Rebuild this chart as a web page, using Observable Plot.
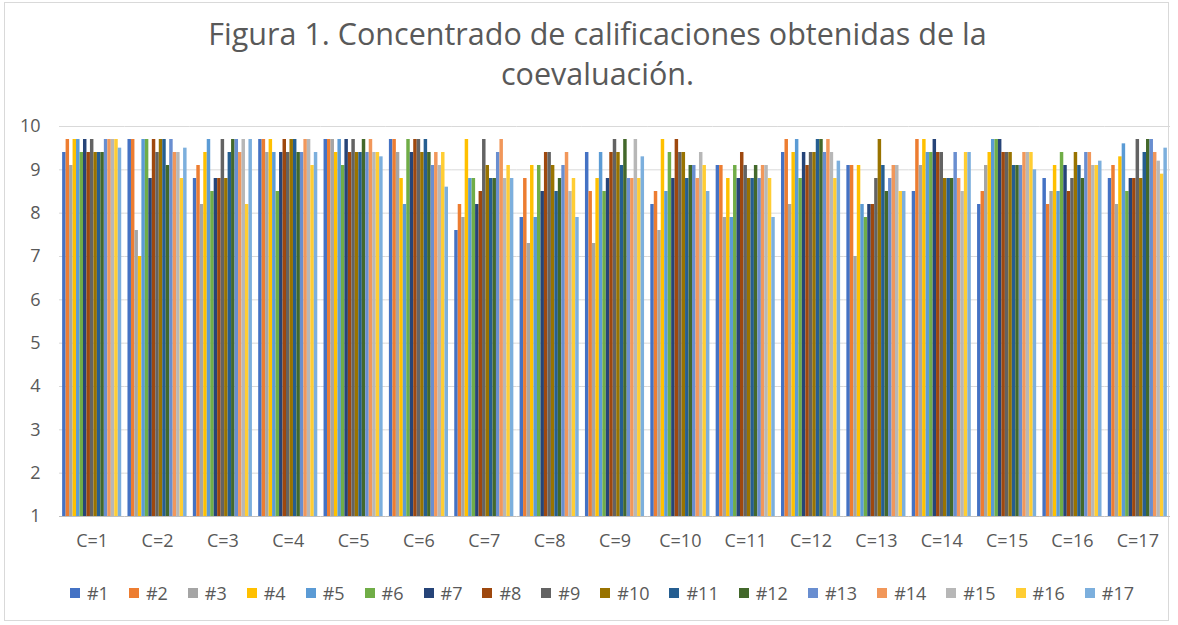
<!DOCTYPE html>
<html><head><meta charset="utf-8">
<script src="https://cdn.jsdelivr.net/npm/d3@7"></script>
<script src="https://cdn.jsdelivr.net/npm/@observablehq/plot@0.6"></script>
<style>
body{margin:0;background:#fff;font-family:"Open Sans",sans-serif;}
#wrap{position:relative;width:1178px;height:625px;overflow:hidden;}
#frame{position:absolute;left:4px;top:2px;width:1165px;height:619px;border:1px solid #d9d9d9;box-sizing:border-box;pointer-events:none;}
#title{position:absolute;top:13px;left:0;width:1195px;text-align:center;font-size:30.5px;line-height:40px;color:#595959;}
#chart{position:absolute;top:100px;left:0;}
#legend{position:absolute;top:582px;left:0;width:1204px;display:flex;justify-content:center;gap:20px;font-size:18px;line-height:22px;color:#595959;}
.item{display:flex;align-items:center;}
.sw{width:10px;height:10px;margin-right:7px;}
</style>
</head><body>
<div id="wrap">
<div id="frame"></div>
<div id="title">Figura 1. Concentrado de calificaciones obtenidas de la<br>coevaluación.</div>
<div id="chart"></div>
<div id="legend"></div>
</div>
<script>
const categories = ["C=1","C=2","C=3","C=4","C=5","C=6","C=7","C=8","C=9","C=10","C=11","C=12","C=13","C=14","C=15","C=16","C=17"];
const series = ["#1","#2","#3","#4","#5","#6","#7","#8","#9","#10","#11","#12","#13","#14","#15","#16","#17"];
const colors = ["#4472C4","#ED7D31","#A5A5A5","#FFC000","#5B9BD5","#70AD47","#264478","#9E480E","#636363","#997300","#255E91","#43682B","#698ED0","#F1975A","#B7B7B7","#FFCD33","#7CAFDD"];
const yTicks = [1,2,3,4,5,6,7,8,9,10];

const C1  = [9.4, 9.7, 9.1, 9.7, 9.7, 9.4, 9.7, 9.4, 9.7, 9.4, 9.4, 9.4, 9.7, 9.7, 9.7, 9.7, 9.5];
const C2  = [9.7, 9.7, 7.6, 7.0, 9.7, 9.7, 8.8, 9.7, 9.4, 9.7, 9.7, 9.1, 9.7, 9.4, 9.4, 8.8, 9.5];
const C3  = [8.8, 9.1, 8.2, 9.4, 9.7, 8.5, 8.8, 8.8, 9.7, 8.8, 9.4, 9.7, 9.7, 9.4, 9.7, 8.2, 9.7];
const C4  = [9.7, 9.7, 9.4, 9.7, 9.4, 8.5, 9.4, 9.7, 9.4, 9.7, 9.7, 9.4, 9.4, 9.7, 9.7, 9.1, 9.4];
const C5  = [9.7, 9.7, 9.7, 9.4, 9.7, 9.1, 9.7, 9.4, 9.7, 9.4, 9.4, 9.7, 9.4, 9.7, 9.4, 9.4, 9.3];
const C6  = [9.7, 9.7, 9.4, 8.8, 8.2, 9.7, 9.4, 9.7, 9.7, 9.4, 9.7, 9.4, 9.1, 9.4, 9.1, 9.4, 8.6];
const C7  = [7.6, 8.2, 7.9, 9.7, 8.8, 8.8, 8.2, 8.5, 9.7, 9.1, 8.8, 8.8, 9.4, 9.7, 8.8, 9.1, 8.8];
const C8  = [7.9, 8.8, 7.3, 9.1, 7.9, 9.1, 8.5, 9.4, 9.4, 9.1, 8.5, 8.8, 9.1, 9.4, 8.5, 8.8, 7.9];
const C9  = [9.4, 8.5, 7.3, 8.8, 9.4, 8.5, 8.8, 9.4, 9.7, 9.4, 9.1, 9.7, 8.8, 8.8, 9.7, 8.8, 9.3];
const C10 = [8.2, 8.5, 7.6, 9.7, 8.5, 9.4, 8.8, 9.7, 9.4, 9.4, 8.8, 9.1, 9.1, 8.8, 9.4, 9.1, 8.5];
const C11 = [9.1, 9.1, 7.9, 8.8, 7.9, 9.1, 8.8, 9.4, 9.1, 8.8, 8.8, 9.1, 8.8, 9.1, 9.1, 8.8, 7.9];
const C12 = [9.4, 9.7, 8.2, 9.4, 9.7, 8.8, 9.4, 9.1, 9.4, 9.4, 9.7, 9.7, 9.4, 9.7, 9.4, 8.8, 9.2];
const C13 = [9.1, 9.1, 7.0, 9.1, 8.2, 7.9, 8.2, 8.2, 8.8, 9.7, 9.1, 8.5, 8.8, 9.1, 9.1, 8.5, 8.5];
const C14 = [8.5, 9.7, 9.1, 9.7, 9.4, 9.4, 9.7, 9.4, 9.4, 8.8, 8.8, 8.8, 9.4, 8.8, 8.5, 9.4, 9.4];
const C15 = [8.2, 8.5, 9.1, 9.4, 9.7, 9.7, 9.7, 9.4, 9.4, 9.4, 9.1, 9.1, 9.1, 9.4, 9.4, 9.4, 9.0];
const C16 = [8.8, 8.2, 8.5, 9.1, 8.5, 9.4, 9.1, 8.5, 8.8, 9.4, 9.1, 8.8, 9.4, 9.4, 9.1, 9.1, 9.2];
const C17 = [8.8, 9.1, 8.2, 9.3, 9.6, 8.5, 8.8, 8.8, 9.7, 8.8, 9.4, 9.7, 9.7, 9.4, 9.2, 8.9, 9.5];

const groups = [C1,C2,C3,C4,C5,C6,C7,C8,C9,C10,C11,C12,C13,C14,C15,C16,C17];
const data = categories.flatMap((c, i) => groups[i].map((v, j) => ({cat: c, series: series[j], value: v})));

const chart = Plot.plot({
  width: 1178, height: 461,
  marginTop: 26, marginLeft: 59, marginRight: 8, marginBottom: 45,
  style: {fontFamily: "'Open Sans', sans-serif", fontSize: "18px", color: "#595959", background: "transparent"},
  fx: {domain: categories, padding: 0, round: false, label: null, axis: "bottom", tickSize: 0, tickPadding: 18},
  x: {domain: series, axis: null, paddingInner: 0, paddingOuter: 0.9, round: false},
  y: {domain: [1, 10], ticks: yTicks, label: null, tickSize: 0, tickPadding: 19, tickFormat: d => d},
  color: {domain: series, range: colors},
  marks: [
    Plot.ruleY(yTicks.slice(1), {stroke: "#d9d9d9", strokeWidth: 1}),
    Plot.barY(data, {fx: "cat", x: "series", y1: 1, y2: "value", fill: "series"}),
    Plot.ruleY([1], {stroke: "#bfbfbf", strokeWidth: 1})
  ]
});
document.getElementById("chart").appendChild(chart);

const legend = document.getElementById("legend");
series.forEach((s, i) => {
  const it = document.createElement("div");
  it.className = "item";
  const sw = document.createElement("span");
  sw.className = "sw";
  sw.style.background = colors[i];
  const lb = document.createElement("span");
  lb.textContent = s;
  it.appendChild(sw); it.appendChild(lb);
  legend.appendChild(it);
});
</script>
</body></html>
